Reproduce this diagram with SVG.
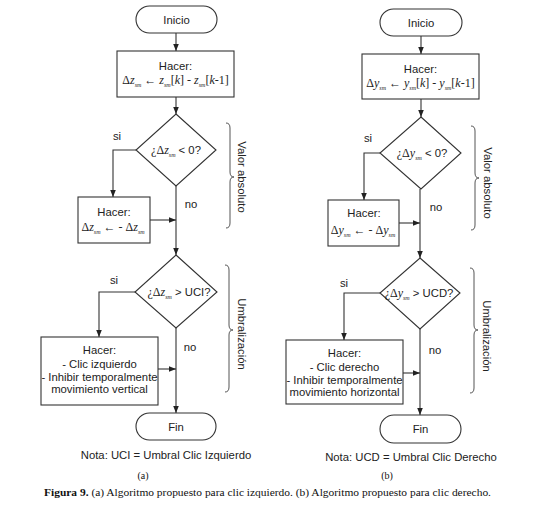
<svg xmlns="http://www.w3.org/2000/svg" width="550" height="512" viewBox="0 0 550 512">
<defs>
<marker id="ah" viewBox="0 0 8 8" refX="8" refY="4" markerWidth="7" markerHeight="7" markerUnits="userSpaceOnUse" orient="auto">
<path d="M0,0.8 L8,4 L0,7.2 Z" fill="#222"/>
</marker>
</defs>
<style>
.sh{fill:#fff;stroke:#333;stroke-width:1.1}
.ln{fill:none;stroke:#333;stroke-width:1.1}
.br{fill:none;stroke:#555;stroke-width:1}
.t{font-family:"Liberation Sans",Arial,sans-serif;font-size:11.3px;fill:#222}
.m{text-anchor:middle}
.f{font-family:"Liberation Serif","Times New Roman",serif;font-size:12px;fill:#222}
.i{font-style:italic}
.s{font-style:italic;font-size:6px}
.c{font-family:"Liberation Serif","Times New Roman",serif;font-size:10px;fill:#111}
</style>
<rect width="550" height="512" fill="#fff"/>

<g id="connectors">
<path class="ln" d="M176,33 V51" marker-end="url(#ah)"/>
<path class="ln" d="M176,97 V114" marker-end="url(#ah)"/>
<path class="ln" d="M136,150 H113 V197" marker-end="url(#ah)"/>
<path class="ln" d="M150,220 H176" marker-end="url(#ah)"/>
<path class="ln" d="M176,186 V255" marker-end="url(#ah)"/>
<path class="ln" d="M135,292 H99 V337" marker-end="url(#ah)"/>
<path class="ln" d="M158,369 H176" marker-end="url(#ah)"/>
<path class="ln" d="M176,328 V413" marker-end="url(#ah)"/>
<path class="ln" d="M421,36 V54" marker-end="url(#ah)"/>
<path class="ln" d="M421,99 V117" marker-end="url(#ah)"/>
<path class="ln" d="M380,153 H364 V200" marker-end="url(#ah)"/>
<path class="ln" d="M399,223 H420" marker-end="url(#ah)"/>
<path class="ln" d="M420,189 V258" marker-end="url(#ah)"/>
<path class="ln" d="M380,293 H344 V340" marker-end="url(#ah)"/>
<path class="ln" d="M403,373 H420" marker-end="url(#ah)"/>
<path class="ln" d="M420,329 V415" marker-end="url(#ah)"/>
</g>

<g id="labels">
<text class="t m" x="117" y="140">si</text>
<text class="t m" x="191" y="208">no</text>
<text class="t m" x="114" y="284">si</text>
<text class="t m" x="190" y="351">no</text>
<text class="t m" x="368" y="142">si</text>
<text class="t m" x="436" y="211">no</text>
<text class="t m" x="344" y="287">si</text>
<text class="t m" x="435" y="354">no</text>
</g>

<g id="a-inicio">
<rect class="sh" x="136" y="6" width="81" height="27" rx="13.5"/>
<text class="t m" x="176.5" y="23.5">Inicio</text>
</g>
<g id="a-hacer1">
<rect class="sh" x="117" y="51" width="117" height="46"/>
<text class="t m" x="175.5" y="70">Hacer:</text>
<text class="f m" x="175.5" y="84">Δ<tspan class="i">z</tspan><tspan class="s" dy="3">sm</tspan><tspan dy="-3"> ←  </tspan><tspan class="i">z</tspan><tspan class="s" dy="3">sm</tspan><tspan dy="-3">[</tspan><tspan class="i">k</tspan>] - <tspan class="i">z</tspan><tspan class="s" dy="3">sm</tspan><tspan dy="-3">[</tspan><tspan class="i">k</tspan>-1]</text>
</g>
<g id="a-dec1">
<polygon class="sh" points="176,114 216,150 176,186 136,150"/>
<text class="f m" x="176" y="154">¿Δ<tspan class="i">z</tspan><tspan class="s" dy="3">sm</tspan><tspan dy="-3" class="t"> &lt; 0?</tspan></text>
</g>
<g id="a-hacer2">
<rect class="sh" x="78" y="197" width="72" height="46"/>
<text class="t m" x="114" y="216">Hacer:</text>
<text class="f m" x="113" y="231">Δ<tspan class="i">z</tspan><tspan class="s" dy="3">sm</tspan><tspan dy="-3"> ←  - Δ</tspan><tspan class="i">z</tspan><tspan class="s" dy="3">sm</tspan></text>
</g>
<g id="a-dec2">
<polygon class="sh" points="176,255 217,292 176,328 135,292"/>
<text class="f m" x="179" y="296">¿Δ<tspan class="i">z</tspan><tspan class="s" dy="3">sm</tspan><tspan dy="-3" class="t"> &gt; UCI?</tspan></text>
</g>
<g id="a-hacer3">
<rect class="sh" x="41" y="337" width="117" height="68"/>
<text class="t m" x="99.5" y="354">Hacer:</text>
<text class="t m" x="99.5" y="368">- Clic izquierdo</text>
<text class="t m" x="99.5" y="381">- Inhibir temporalmente</text>
<text class="t m" x="99.5" y="393">movimiento vertical</text>
</g>
<g id="a-fin">
<rect class="sh" x="136" y="413" width="80" height="27" rx="13.5"/>
<text class="t m" x="176" y="430.5">Fin</text>
</g>
<g id="a-brace1">
<path class="br" d="M226,123 Q230,123 230,128 V172 Q230,177 234,177 Q230,177 230,182 V223 Q230,228 226,228"/>
<text class="t m" transform="translate(238,177) rotate(90)">Valor absoluto</text>
</g>
<g id="a-brace2">
<path class="br" d="M225,265 Q229,265 229,270 V325 Q229,330 233,330 Q229,330 229,335 V387 Q229,392 225,392"/>
<text class="t m" transform="translate(238,334) rotate(90)">Umbralización</text>
</g>
<g id="a-notes">
<text class="t m" x="166" y="459">Nota: UCI = Umbral Clic Izquierdo</text>
<text class="c m" x="143" y="479">(a)</text>
</g>

<g id="b-inicio">
<rect class="sh" x="380" y="9" width="82" height="27" rx="13.5"/>
<text class="t m" x="421" y="26.5">Inicio</text>
</g>
<g id="b-hacer1">
<rect class="sh" x="362" y="54" width="117" height="45"/>
<text class="t m" x="420.5" y="73">Hacer:</text>
<text class="f m" x="420.5" y="87">Δ<tspan class="i">y</tspan><tspan class="s" dy="3">sm</tspan><tspan dy="-3"> ←  </tspan><tspan class="i">y</tspan><tspan class="s" dy="3">sm</tspan><tspan dy="-3">[</tspan><tspan class="i">k</tspan>] - <tspan class="i">y</tspan><tspan class="s" dy="3">sm</tspan><tspan dy="-3">[</tspan><tspan class="i">k</tspan>-1]</text>
</g>
<g id="b-dec1">
<polygon class="sh" points="421,117 461,153 421,189 380,153"/>
<text class="f m" x="422" y="157">¿Δ<tspan class="i">y</tspan><tspan class="s" dy="3">sm</tspan><tspan dy="-3" class="t"> &lt; 0?</tspan></text>
</g>
<g id="b-hacer2">
<rect class="sh" x="328" y="200" width="71" height="46"/>
<text class="t m" x="364" y="217">Hacer:</text>
<text class="f m" x="363" y="234">Δ<tspan class="i">y</tspan><tspan class="s" dy="3">sm</tspan><tspan dy="-3"> ←  - Δ</tspan><tspan class="i">y</tspan><tspan class="s" dy="3">sm</tspan></text>
</g>
<g id="b-dec2">
<polygon class="sh" points="420,258 460,293 420,329 380,293"/>
<text class="f m" x="419" y="297">¿Δ<tspan class="i">y</tspan><tspan class="s" dy="3">sm</tspan><tspan dy="-3" class="t"> &gt; UCD?</tspan></text>
</g>
<g id="b-hacer3">
<rect class="sh" x="286" y="340" width="117" height="64"/>
<text class="t m" x="344.5" y="357">Hacer:</text>
<text class="t m" x="344.5" y="371">- Clic derecho</text>
<text class="t m" x="344.5" y="384">- Inhibir temporalmente</text>
<text class="t m" x="344.5" y="396">movimiento horizontal</text>
</g>
<g id="b-fin">
<rect class="sh" x="380" y="415" width="81" height="28" rx="14"/>
<text class="t m" x="420.5" y="433">Fin</text>
</g>
<g id="b-brace1">
<path class="br" d="M471,126 Q475,126 475,131 V173 Q475,178 479,178 Q475,178 475,183 V225 Q475,230 471,230"/>
<text class="t m" transform="translate(484,183) rotate(90)">Valor absoluto</text>
</g>
<g id="b-brace2">
<path class="br" d="M470,268 Q474,268 474,273 V325 Q474,330 478,330 Q474,330 474,335 V388 Q474,393 470,393"/>
<text class="t m" transform="translate(483,336) rotate(90)">Umbralización</text>
</g>
<g id="b-notes">
<text class="t m" x="411" y="461">Nota: UCD = Umbral Clic Derecho</text>
<text class="c m" x="387" y="479">(b)</text>
</g>

<g id="caption">
<text class="c" x="44" y="496" textLength="447" lengthAdjust="spacingAndGlyphs"><tspan font-weight="bold">Figura 9.</tspan> (a) Algoritmo propuesto para clic izquierdo. (b) Algoritmo propuesto para clic derecho.</text>
</g>
</svg>
